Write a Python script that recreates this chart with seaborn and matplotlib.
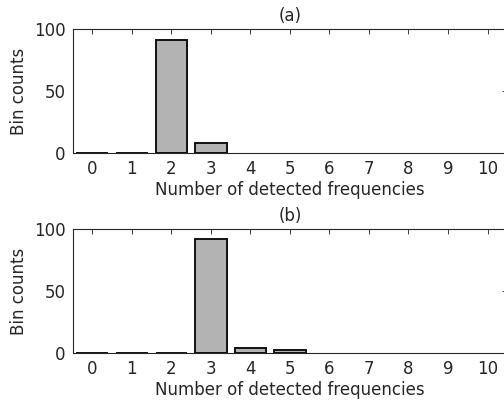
import matplotlib
matplotlib.use("Agg")
import matplotlib.pyplot as plt
import seaborn as sns
import pandas as pd

# Data
bins_a = [0, 1, 2, 3]
counts_a = [0, 0, 91, 8]
bins_b = [0, 1, 2, 3, 4, 5]
counts_b = [0, 0, 0, 92, 4, 2]
x_ticks = list(range(11))
y_ticks = [0, 50, 100]
titles = ["(a)", "(b)"]
xlabel = "Number of detected frequencies"
ylabel = "Bin counts"

sns.set_style("white")
plt.rcParams["font.family"] = ["DejaVu Sans"]
dark = "#262626"
plt.rcParams.update({
    "text.color": dark, "axes.labelcolor": dark,
    "xtick.color": dark, "ytick.color": dark, "axes.edgecolor": dark,
})

fs = 12
fig = plt.figure(figsize=(5.04, 4.03), dpi=100)
W, H = 504, 403
left_px, right_px = 72.5, 507.3
axes_pos = [(29.3, 153.0), (229.0, 352.8)]

datasets = [(bins_a, counts_a), (bins_b, counts_b)]
for (top_px, bot_px), (bins, counts), title in zip(axes_pos, datasets, titles):
    ax = fig.add_axes([left_px / W, 1 - bot_px / H,
                       (right_px - left_px) / W, (bot_px - top_px) / H])
    df = pd.DataFrame({"bin": bins, "count": counts})
    sns.barplot(data=df, x="bin", y="count", native_scale=True, width=0.8,
                color="#b3b3b3", saturation=1, edgecolor="#111111",
                linewidth=1.4, ax=ax)
    ax.set_xlim(-0.5, 10.5)
    ax.set_ylim(0, 100)
    ax.set_xticks(x_ticks)
    ax.set_xticklabels([str(v) for v in x_ticks])
    ax.set_yticks(y_ticks)
    ax.tick_params(direction="in", length=3.5, width=0.6, top=True, right=True,
                   labelsize=fs, pad=5)
    for s in ax.spines.values():
        s.set_visible(True)
        s.set_linewidth(0.8)
        s.set_color(dark)
    ax.set_xlabel(xlabel, fontsize=fs, labelpad=2)
    ax.set_ylabel(ylabel, fontsize=fs, labelpad=4)
    ax.set_title(title, fontsize=fs, pad=6)

fig.savefig("out.png", dpi=100)
